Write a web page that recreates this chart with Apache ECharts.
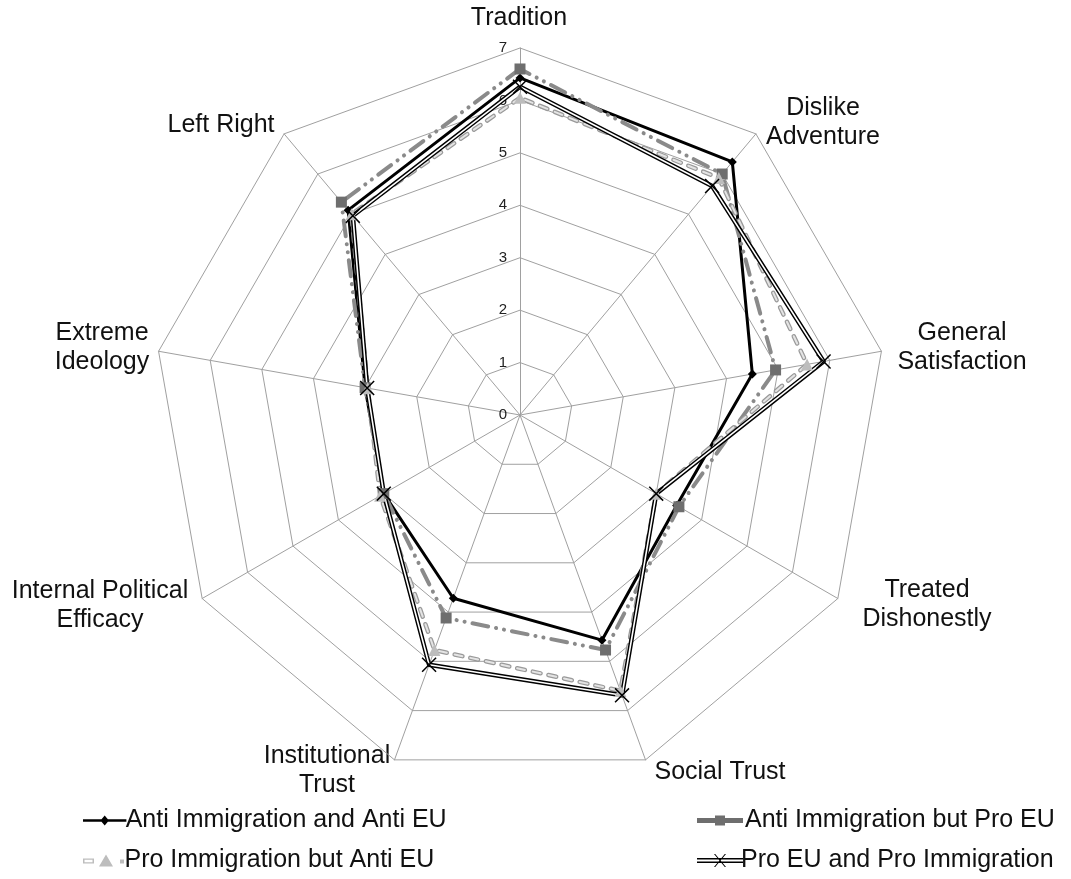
<!DOCTYPE html>
<html><head><meta charset="utf-8">
<script src="https://cdn.jsdelivr.net/npm/echarts@6/dist/echarts.min.js"></script>
<style>html,body{margin:0;padding:0;background:#fff}#c{width:1071px;height:879px}</style>
</head><body><div id="c"></div>
<script>
// ---- data (clockwise from top, as in the reference) ----
const categories = ['Tradition', 'Dislike Adventure', 'General Satisfaction', 'Treated Dishonestly',
  'Social Trust', 'Institutional Trust', 'Internal Political Efficacy', 'Extreme Ideology', 'Left Right'];
const categoryLabels = ['Tradition', 'Dislike\nAdventure', 'General\nSatisfaction', 'Treated\nDishonestly',
  'Social Trust', 'Institutional\nTrust', 'Internal Political\nEfficacy', 'Extreme\nIdeology', 'Left Right'];
const tickLabels = ['0', '1', '2', '3', '4', '5', '6', '7'];
const seriesNames = ['Anti Immigration and Anti EU', 'Anti Immigration but Pro EU',
  'Pro Immigration but Anti EU', 'Pro EU and Pro Immigration'];
const antiImmAntiEU = [6.43, 6.30, 4.50, 3.45, 4.57, 3.72, 3.00, 3.00, 5.10];
const antiImmProEU  = [6.60, 6.00, 4.95, 3.50, 4.77, 4.12, 3.00, 3.00, 5.30];
const proImmAntiEU  = [6.05, 5.90, 5.56, 3.00, 5.60, 4.77, 3.08, 2.95, 5.00];
const proEUProImm   = [6.26, 5.70, 5.88, 3.00, 5.69, 5.07, 3.00, 2.96, 4.96];

// ---- layout ----
const CX = 520, CY = 415, R = 367, MAXV = 7;
const labelPos = [[519, 18], [823, 123], [962, 348], [927, 605], [720, 772],
  [327, 771], [100, 606], [102, 348], [221, 125]];
const FONT = '"Liberation Sans", Arial, sans-serif';

// ECharts radar runs counter-clockwise; reorder so the picture runs clockwise
const ccw = [0, 8, 7, 6, 5, 4, 3, 2, 1];
const reorder = arr => ccw.map(i => arr[i]);

const xPath = 'path://M0,0.7 L0.7,0 L10,9.3 L9.3,10 Z M9.3,0 L10,0.7 L0.7,10 L0,9.3 Z';

const icons = [
  'path://M0,4 H46 V6.6 H0 Z M23,0 L27.5,5.3 L23,10.6 L18.5,5.3 Z',
  'path://M0,2.5 H46 V7.5 H0 Z M18,0 H28 V10 H18 Z',
  'path://M0,4 H11 V9 H0 Z M1.5,5.3 V7.7 H9.5 V5.3 Z M23,0 L30,12 L16,12 Z M37,5 H41 V9 H37 Z',
  'path://M0,4 H46 V9 H0 Z M0,5.6 V7.4 H46 V5.6 Z M17,0 L18.2,0 L29,13 L27.8,13 Z M27.8,0 L29,0 L18.2,13 L17,13 Z'
];
const iconHeights = [10, 10, 12, 13];
const legendPos = [[78, 803], [692, 803], [78, 843], [692, 843]];
const legendTextShift = [-7, -3, -7, -7];

const chart = echarts.init(document.getElementById('c'), null, {renderer: 'canvas'});

const radarData = [
  {
    name: seriesNames[0], value: reorder(antiImmAntiEU),
    symbol: 'diamond', symbolSize: 9,
    lineStyle: {color: '#000', width: 3},
    itemStyle: {color: '#000'}
  },
  {
    name: seriesNames[1], value: reorder(antiImmProEU),
    symbol: 'rect', symbolSize: 11,
    lineStyle: {color: '#8a8a8a', width: 4, type: [16, 8, 0.1, 8, 0.1, 8], cap: 'round'},
    itemStyle: {color: '#6e6e6e'}
  },
  {
    name: seriesNames[2], value: reorder(proImmAntiEU),
    symbol: 'triangle', symbolSize: 12,
    lineStyle: {color: '#9a9a9a', width: 4.5, type: [8, 8], cap: 'round'},
    itemStyle: {color: '#bdbdbd'}
  },
  {
    name: '_inner3', value: reorder(proImmAntiEU),
    symbol: 'none',
    lineStyle: {color: '#e4e4e4', width: 2, type: [8, 8], cap: 'round'},
    itemStyle: {color: '#e4e4e4'}
  },
  {
    name: seriesNames[3], value: reorder(proEUProImm),
    symbol: xPath, symbolSize: 15,
    lineStyle: {color: '#000', width: 4.5},
    itemStyle: {color: '#000'}
  },
  {
    name: '_inner4', value: reorder(proEUProImm),
    symbol: 'none',
    lineStyle: {color: '#fff', width: 1.6},
    itemStyle: {color: '#fff'}
  }
];

const legends = seriesNames.map((n, i) => ({
  left: legendPos[i][0], top: legendPos[i][1],
  orient: 'horizontal',
  itemWidth: 46, itemHeight: iconHeights[i],
  itemGap: 0,
  selectedMode: false,
  data: [{name: n, icon: icons[i]}],
  textStyle: {fontSize: 25, color: '#111', fontFamily: FONT, padding: [0, 0, 0, legendTextShift[i]]}
}));

const graphics = categoryLabels.map((t, i) => ({
  type: 'text', x: labelPos[i][0], y: labelPos[i][1], silent: true,
  style: {text: t, fontSize: 25, fontFamily: FONT, fill: '#111',
    align: 'center', verticalAlign: 'middle', lineHeight: 29}
}));

chart.setOption({
  animation: false,
  backgroundColor: '#fff',
  radar: {
    center: [CX, CY], radius: R,
    shape: 'polygon', splitNumber: 7,
    indicator: reorder(categories).map(n => ({name: n, min: 0, max: MAXV})),
    axisName: {show: false},
    axisLine: {lineStyle: {color: '#a0a0a0', width: 1}},
    splitLine: {lineStyle: {color: '#a0a0a0', width: 1}},
    splitArea: {show: false},
    axisTick: {show: false},
    axisLabel: {show: false}
  },
  polar: {center: [CX, CY], radius: R},
  angleAxis: {show: false, startAngle: 90, min: 0, max: 360},
  radiusAxis: {
    min: 0, max: MAXV, interval: 1,
    axisLine: {show: false}, axisTick: {show: false}, splitLine: {show: false},
    axisLabel: {show: true, fontSize: 15, color: '#222', fontFamily: FONT, margin: 13,
      formatter: v => tickLabels[v]}
  },
  legend: legends,
  graphic: graphics,
  series: [{
    type: 'radar',
    data: radarData,
    emphasis: {disabled: true}
  }]
});
</script></body></html>
